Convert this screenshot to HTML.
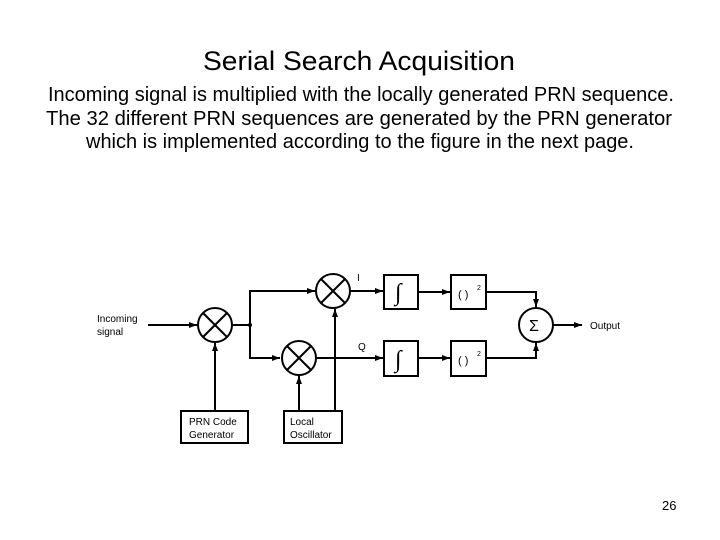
<!DOCTYPE html>
<html><head><meta charset="utf-8"><style>
html,body{margin:0;padding:0;background:#fff;}
svg{display:block}
</style></head><body>
<svg width="720" height="540" viewBox="0 0 720 540" xmlns="http://www.w3.org/2000/svg" font-family="Liberation Sans, sans-serif">
<defs><marker id="a" markerWidth="8" markerHeight="6" refX="8" refY="3" orient="auto" markerUnits="userSpaceOnUse"><path d="M0,0 L8,3 L0,6 z" fill="#000"/></marker></defs>
<text x="359" y="70" font-size="27" text-anchor="middle" textLength="312" lengthAdjust="spacingAndGlyphs" fill="#000">Serial Search Acquisition</text>
<text x="361" y="101" font-size="20.5" text-anchor="middle" textLength="626" lengthAdjust="spacingAndGlyphs" fill="#000">Incoming signal is multiplied with the locally generated PRN sequence.</text>
<text x="359" y="125" font-size="20.5" text-anchor="middle" textLength="626" lengthAdjust="spacingAndGlyphs" fill="#000">The 32 different PRN sequences are generated by the PRN generator</text>
<text x="360" y="148" font-size="20.5" text-anchor="middle" textLength="548" lengthAdjust="spacingAndGlyphs" fill="#000">which is implemented according to the figure in the next page.</text>
<g stroke="#000" stroke-width="2" fill="none">
<line x1="148" y1="325" x2="197" y2="325" marker-end="url(#a)"/>
<circle cx="215" cy="325" r="17"/><line x1="203" y1="313" x2="227" y2="337"/><line x1="227" y1="313" x2="203" y2="337"/>
<line x1="232" y1="325" x2="250" y2="325"/>
<polyline points="250,325 250,291 315,291" marker-end="url(#a)"/>
<polyline points="250,325 250,358 280,358" marker-end="url(#a)"/>
<circle cx="333" cy="291" r="17"/><line x1="321" y1="279" x2="345" y2="303"/><line x1="345" y1="279" x2="321" y2="303"/>
<circle cx="299" cy="358" r="17"/><line x1="287" y1="346" x2="311" y2="370"/><line x1="311" y1="346" x2="287" y2="370"/>
<line x1="215" y1="411" x2="215" y2="343" marker-end="url(#a)"/>
<line x1="299" y1="411" x2="299" y2="376" marker-end="url(#a)"/>
<line x1="335" y1="411" x2="335" y2="309" marker-end="url(#a)"/>
<line x1="350" y1="291" x2="383" y2="291" marker-end="url(#a)"/>
<line x1="316" y1="358" x2="383" y2="358" marker-end="url(#a)"/>
<rect x="384" y="275" width="34" height="34"/><rect x="384" y="341" width="34" height="35"/>
<line x1="418" y1="292" x2="450" y2="292" marker-end="url(#a)"/>
<line x1="418" y1="358" x2="450" y2="358" marker-end="url(#a)"/>
<rect x="451" y="275" width="35" height="34"/><rect x="451" y="341" width="35" height="35"/>
<polyline points="486,292 536,292 536,307" marker-end="url(#a)"/>
<polyline points="486,358 536,358 536,343" marker-end="url(#a)"/>
<circle cx="536" cy="325" r="17"/>
<line x1="553" y1="325" x2="582" y2="325" marker-end="url(#a)"/>
<rect x="181" y="411" width="67" height="32"/><rect x="284" y="411" width="58" height="32"/>
</g>
<circle cx="250" cy="325" r="2" fill="#000"/>
<g font-size="10" fill="#000">
<text x="97" y="322">Incoming</text><text x="97" y="335">signal</text>
<text x="357" y="281">I</text><text x="358" y="350">Q</text>
<text x="590" y="329">Output</text>
<text x="189" y="425">PRN Code</text><text x="189" y="438">Generator</text>
<text x="290" y="425">Local</text><text x="290" y="438">Oscillator</text>
<text x="529" y="331" font-size="16">Σ</text>
<text x="458" y="298" font-size="11">( )</text><text x="477" y="290" font-size="7">2</text>
<text x="458" y="364" font-size="11">( )</text><text x="477" y="356" font-size="7">2</text>
</g>
<g font-family="Liberation Serif, serif" font-size="24" fill="#000">
<text x="395" y="300" font-style="italic">∫</text><text x="395" y="367" font-style="italic">∫</text>
</g>
<text x="662" y="510" font-size="13" fill="#000">26</text>
</svg>
</body></html>
